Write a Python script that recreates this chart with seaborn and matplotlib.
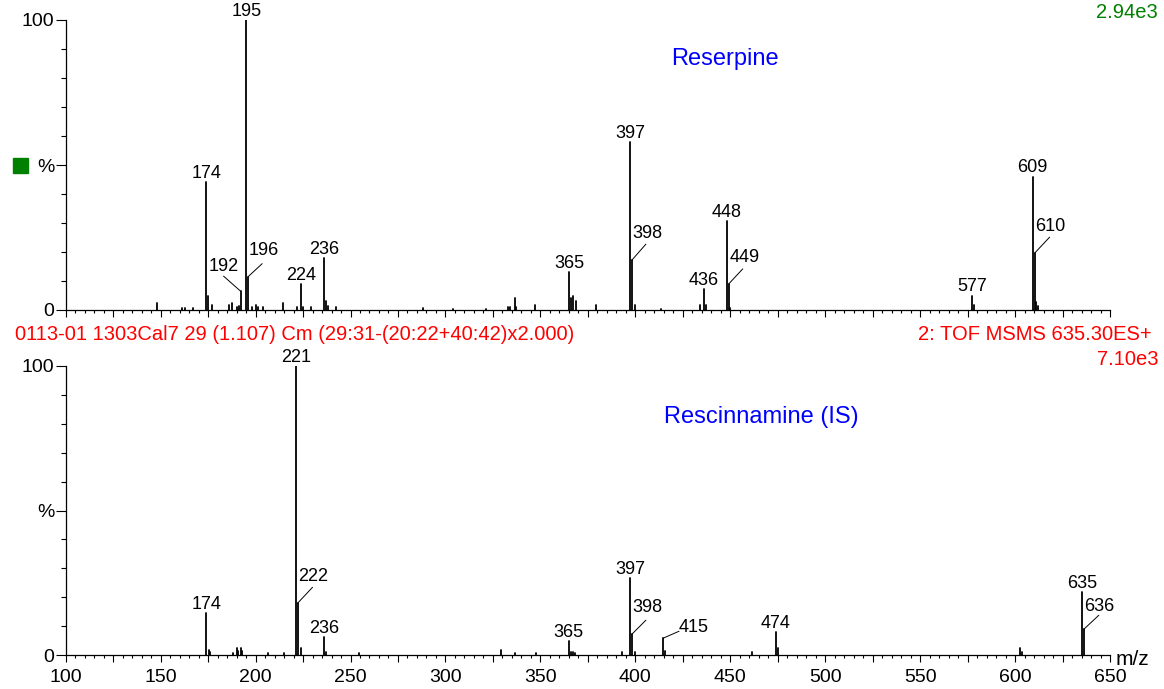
import pandas as pd
import seaborn as sns
import matplotlib.pyplot as plt
from matplotlib.patches import Rectangle
from matplotlib.ticker import MultipleLocator, FixedLocator, FuncFormatter

# Reserpine MS/MS spectrum (top), m/z and % of base peak
top_mz = [148.0, 161.0, 163.0, 167.0, 174.1, 175.1, 177.0, 186.1, 187.5, 190.1,
          191.4, 192.1, 195.1, 196.1, 198.0, 200.1, 201.5, 204.1, 214.6, 222.0,
          224.1, 225.1, 229.0, 236.1, 237.1, 238.3, 242.3, 288.0, 304.0, 321.3,
          333.0, 334.0, 336.4, 337.4, 347.4, 365.1, 366.2, 367.2, 368.5, 379.4,
          397.2, 398.2, 400.0, 413.4, 434.3, 436.2, 437.0, 448.2, 449.2, 450.1,
          577.2, 578.2, 609.3, 610.3, 611.2, 612.2]
top_int = [2.5, 0.8, 0.8, 0.8, 44.2, 4.8, 1.7, 1.7, 2.5, 1.1,
           1.5, 6.5, 100.0, 11.5, 1.0, 1.7, 1.0, 1.0, 2.5, 1.0,
           9.0, 1.0, 1.0, 17.8, 3.0, 1.5, 1.0, 0.8, 0.5, 0.5,
           1.0, 1.0, 4.0, 1.0, 1.7, 13.0, 4.0, 4.8, 3.0, 1.7,
           57.8, 17.2, 1.7, 0.5, 1.7, 7.2, 1.7, 30.7, 9.0, 0.8,
           5.0, 1.7, 46.0, 19.6, 2.9, 1.5]
top_labels = ["174", "192", "195", "196", "224", "236", "365", "397", "398",
              "436", "448", "449", "577", "609", "610"]

# Rescinnamine (IS) MS/MS spectrum (bottom)
bot_mz = [174.1, 175.3, 176.2, 188.0, 190.0, 191.0, 192.3, 193.0, 206.3, 215.0,
          221.1, 222.1, 224.0, 236.0, 237.0, 254.6, 329.0, 336.5, 347.6, 365.0,
          366.0, 367.2, 368.0, 393.2, 397.2, 398.2, 400.0, 414.6, 415.6, 461.6,
          474.1, 475.1, 602.7, 603.7, 635.1, 636.2]
bot_int = [14.6, 1.7, 1.0, 0.8, 2.5, 1.5, 2.5, 1.5, 0.8, 0.8,
           100.0, 17.9, 2.5, 6.3, 1.0, 0.8, 1.7, 0.7, 0.7, 4.8,
           1.2, 1.0, 0.8, 1.0, 26.5, 7.2, 1.0, 5.8, 1.5, 1.0,
           8.0, 2.5, 2.3, 1.2, 21.9, 8.9]
bot_labels = ["174", "221", "222", "236", "365", "397", "398", "415", "474",
              "635", "636"]

x_labelled = [100, 150, 200, 250, 300, 350, 400, 450, 500, 550, 600, 650]

header_left = "0113-01 1303Cal7 29 (1.107) Cm (29:31-(20:22+40:42)x2.000)"
header_right = "2: TOF MSMS 635.30ES+"
top_scale = "2.94e3"
bot_scale = "7.10e3"

W, H = 1164, 689

# leader line labels: (text offset px, line end px) relative to peak top
leaders_top = {"192": ((-17, 25), (-17, 15)), "196": ((16, 26), (14, 13)),
               "398": ((16, 27), (14, 16)), "449": ((16, 26), (14, 15)),
               "610": ((16, 27), (15, 16))}
leaders_bot = {"222": ((16, 27), (15, 16)), "398": ((16, 27), (14, 14)),
               "415": ((31, 11), (16, 7)), "636": ((15, 23), (15, 14))}


def px(x, y):
    return x / W, 1 - y / H


def sticks(mz, inten):
    rows = []
    for i, (m, v) in enumerate(zip(mz, inten)):
        rows.append((i, m, 0.0))
        rows.append((i, m, v))
    return pd.DataFrame(rows, columns=["peak", "mz", "rel"])


sns.set_style("ticks")
plt.rcParams["font.family"] = ["Liberation Sans", "DejaVu Sans"]
plt.rcParams["text.color"] = "black"
plt.rcParams["xtick.color"] = "black"
plt.rcParams["ytick.color"] = "black"
plt.rcParams["axes.labelcolor"] = "black"

fig = plt.figure(figsize=(W / 100, H / 100), dpi=100)
ax_top = fig.add_axes([65.7 / W, 1 - 310 / H, (1110 - 65.7) / W, 290 / H])
ax_bot = fig.add_axes([65.7 / W, 1 - 655 / H, (1110 - 65.7) / W, 289 / H])


def draw_panel(ax, mz, inten, labels, leaders, show_x):
    df = sticks(mz, inten)
    sns.lineplot(data=df, x="mz", y="rel", units="peak", estimator=None,
                 sort=False, color="black", lw=1.3, ax=ax)
    ax.set_xlim(100, 650)
    ax.set_ylim(0, 100)
    ax.set_xlabel("")
    ax.set_ylabel("")
    for s in ["top", "right"]:
        ax.spines[s].set_visible(False)
    for s in ["left", "bottom"]:
        ax.spines[s].set_linewidth(0.9)
        ax.spines[s].set_color("black")

    ax.xaxis.set_major_locator(MultipleLocator(25))
    ax.xaxis.set_minor_locator(MultipleLocator(5))
    ax.xaxis.set_major_formatter(FuncFormatter(
        lambda v, p: f"{int(v)}" if int(round(v)) in x_labelled else ""))
    ax.yaxis.set_major_locator(FixedLocator([0, 50, 100]))
    ax.set_yticklabels(["0", "%", "100"])
    ax.yaxis.set_minor_locator(MultipleLocator(10))
    ax.tick_params(axis="x", which="major", length=5, width=0.8, pad=5,
                   labelsize=14, labelbottom=show_x, color="black",
                   labelcolor="black")
    ax.tick_params(axis="x", which="minor", length=2.5, width=0.8, color="black")
    ax.tick_params(axis="y", which="major", length=7, width=0.8, pad=1,
                   labelsize=14, color="black", labelcolor="black")
    ax.tick_params(axis="y", which="minor", length=3.5, width=0.8, color="black")

    for lab in labels:
        cand = [i for i, m in enumerate(mz) if round(m) == int(lab)]
        i = max(cand, key=lambda k: inten[k])
        pk = (mz[i], inten[i])
        if lab in leaders:
            (tx, ty), (lx, ly) = leaders[lab]
            ax.annotate("", xy=pk, xytext=(lx * 0.72, ly * 0.72),
                        textcoords="offset points",
                        arrowprops=dict(arrowstyle="-", lw=0.7, color="black",
                                        shrinkA=0, shrinkB=0))
            ax.annotate(lab, xy=pk, xytext=(tx * 0.72, ty * 0.72),
                        textcoords="offset points", ha="center", va="center",
                        fontsize=13, color="black", annotation_clip=False)
        else:
            ax.annotate(lab, xy=pk, xytext=(0, 3), textcoords="offset points",
                        ha="center", va="baseline", fontsize=13,
                        color="black", annotation_clip=False)


draw_panel(ax_top, top_mz, top_int, top_labels, leaders_top, False)
draw_panel(ax_bot, bot_mz, bot_int, bot_labels, leaders_bot, True)

# compound names
fig.text(*px(724.5, 65), "Reserpine", color="#0000ff", fontsize=17,
         ha="center", va="baseline")
fig.text(*px(761, 423), "Rescinnamine (IS)", color="#0000ff", fontsize=17,
         ha="center", va="baseline")

# instrument headers
fig.text(*px(15, 340), header_left, color="#ff0000", fontsize=14.5,
         ha="left", va="baseline")
fig.text(*px(1152, 340), header_right, color="#ff0000", fontsize=14.5,
         ha="right", va="baseline")
fig.text(*px(1158, 365), bot_scale, color="#ff0000", fontsize=14.5,
         ha="right", va="baseline")
fig.text(*px(1158, 18), top_scale, color="#008000", fontsize=14.5,
         ha="right", va="baseline")
fig.text(*px(1116, 665), "m/z", color="black", fontsize=15,
         ha="left", va="baseline")

# green marker next to top % axis
fig.patches.append(Rectangle(px(13.3, 172.7), 14.4 / W, 14.4 / H,
                             transform=fig.transFigure, color="#008000"))

fig.savefig("out.png", dpi=100)
